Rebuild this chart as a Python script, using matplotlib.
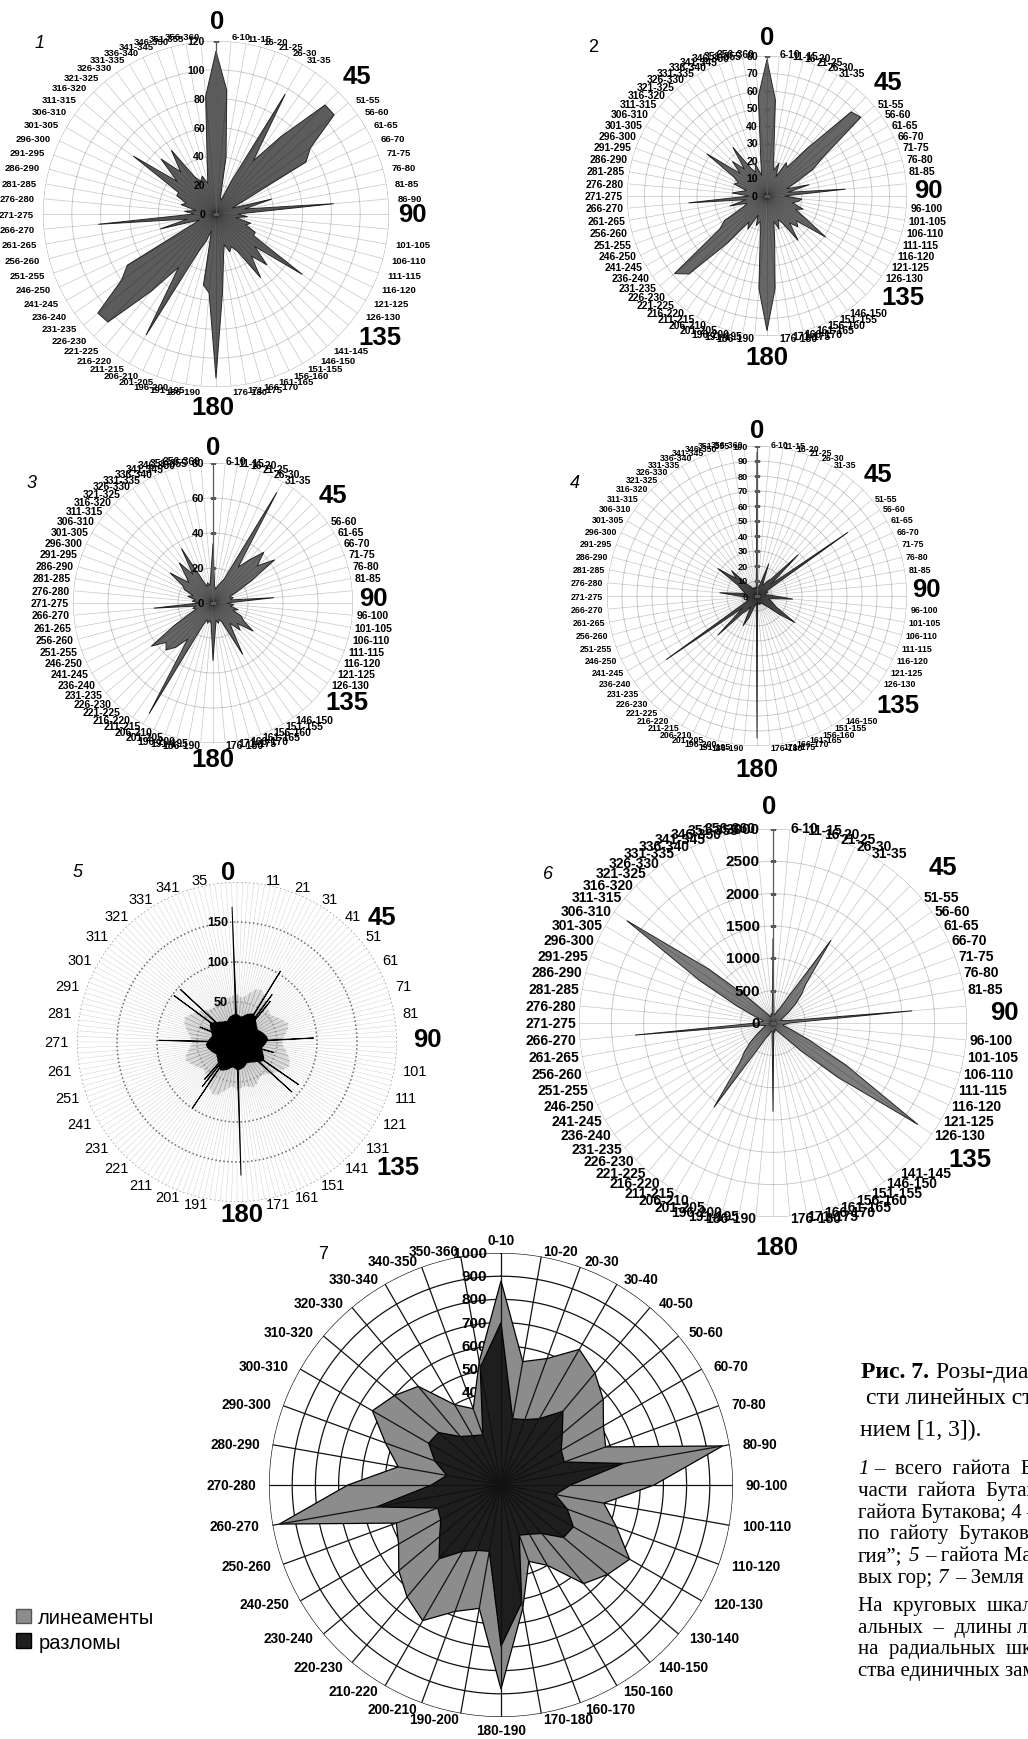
import numpy as np
import matplotlib
matplotlib.use("Agg")
import matplotlib.pyplot as plt
from matplotlib.patches import Patch

plt.rcParams['font.family'] = ['Liberation Sans', 'DejaVu Sans']

# ------------------------------------------------------------------ data
sector_labels_5 = [
    "1-5", "6-10", "11-15", "16-20", "21-25", "26-30", "31-35", "36-40", "41-45", "46-50",
    "51-55", "56-60", "61-65", "66-70", "71-75", "76-80", "81-85", "86-90", "91-95", "96-100",
    "101-105", "106-110", "111-115", "116-120", "121-125", "126-130", "131-135", "136-140",
    "141-145", "146-150", "151-155", "156-160", "161-165", "166-170", "171-175", "176-180",
    "181-185", "186-190", "191-195", "196-200", "201-205", "206-210", "211-215", "216-220",
    "221-225", "226-230", "231-235", "236-240", "241-245", "246-250", "251-255", "256-260",
    "261-265", "266-270", "271-275", "276-280", "281-285", "286-290", "291-295", "296-300",
    "301-305", "306-310", "311-315", "316-320", "321-325", "326-330", "331-335", "336-340",
    "341-345", "346-350", "351-355", "356-360"]

compass_labels = ["0", "45", "90", "135", "180"]

rose1_values = [113, 86, 40, 12, 10, 25, 96, 45, 70, 107, 107, 80, 72, 20, 12, 40, 20, 82,
                15, 22, 14, 25, 22, 30, 30, 73, 35, 50, 38, 54, 30, 25, 28, 22, 30, 53,
                114, 55, 50, 12, 20, 29, 97, 45, 70, 106, 107, 80, 71, 20, 12, 40, 20, 82,
                15, 22, 14, 25, 22, 30, 30, 70, 35, 54, 38, 54, 30, 25, 28, 22, 35, 82]

rose2_values = [78, 55, 22, 15, 20, 12, 22, 20, 35, 68, 70, 40, 30, 18, 12, 25, 12, 45,
                10, 20, 18, 15, 22, 18, 25, 41, 22, 25, 20, 31, 18, 15, 20, 15, 25, 53,
                77, 53, 22, 15, 18, 12, 22, 18, 35, 63, 69, 33, 28, 15, 12, 22, 12, 45,
                10, 20, 15, 12, 20, 18, 22, 42, 20, 28, 20, 34, 18, 15, 20, 12, 20, 57]

rose3_values = [34, 10, 8, 10, 12, 15, 73, 25, 32, 41, 33, 43, 25, 15, 10, 12, 10, 35,
                8, 12, 10, 15, 12, 18, 20, 28, 18, 22, 15, 20, 34, 12, 10, 12, 10, 15,
                33, 12, 10, 12, 10, 15, 73, 25, 33, 38, 35, 43, 25, 15, 10, 12, 10, 34,
                8, 12, 10, 15, 12, 18, 20, 30, 18, 22, 30, 20, 36, 15, 10, 12, 10, 15]

rose4_values = [96, 5, 6, 8, 23, 10, 8, 12, 15, 39, 12, 74, 10, 6, 8, 6, 5, 8,
                12, 24, 10, 8, 10, 12, 15, 31, 18, 10, 8, 6, 5, 6, 5, 6, 5, 4,
                95, 5, 6, 8, 15, 22, 8, 12, 15, 37, 12, 74, 10, 6, 8, 6, 5, 8,
                12, 25, 10, 8, 10, 12, 15, 32, 18, 24, 10, 8, 6, 5, 6, 5, 6, 5]

rose6_values = [1310, 150, 120, 150, 200, 250, 450, 1565, 800, 620, 450, 300, 200, 150, 120, 150, 200, 2160,
                250, 200, 150, 180, 300, 600, 1300, 2735, 1300, 600, 300, 200, 150, 120, 100, 120, 150, 120,
                1370, 150, 120, 150, 200, 250, 450, 1590, 800, 620, 450, 300, 200, 150, 120, 150, 200, 2140,
                250, 200, 150, 180, 300, 600, 1300, 2760, 1300, 600, 300, 200, 150, 120, 100, 120, 150, 120]

# rose 5 : 1-degree rose, drawn as dense core + individual long rays
rose5_labels = ["11", "21", "31", "41", "51", "61", "71", "81", "101", "111", "121", "131", "141",
                "151", "161", "171", "191", "201", "211", "221", "231", "241", "251", "261", "271",
                "281", "291", "301", "311", "321", "331", "341", "35"]
rose5_label_angles = [10, 20, 30, 40, 50, 60, 70, 80, 100, 110, 120, 130, 140, 150, 160, 170,
                      190, 200, 210, 220, 230, 240, 250, 260, 270, 280, 290, 300, 310, 320, 330, 340, 350]
rose5_ray_angles = [357.9, 178.3, 31.5, 36.5, 39.3, 87.0, 106.0, 124.7, 132.3, 214.0, 217.9, 221.0,
                    271.2, 292.0, 306.4, 312.9]
rose5_ray_values = [169, 167, 104, 74, 66, 96, 48, 94, 93, 100, 71, 62, 98, 50, 98, 97]
rose5_core = [34, 32, 31, 33, 36, 38, 40, 38, 35, 33, 31, 30, 29, 31, 33, 35, 37, 38,
              36, 34, 32, 31, 33, 35, 38, 40, 37, 34, 32, 30, 29, 28, 30, 32, 33, 34,
              34, 32, 31, 33, 36, 38, 40, 38, 35, 33, 31, 30, 29, 31, 33, 35, 37, 38,
              36, 34, 32, 31, 33, 35, 38, 40, 37, 34, 32, 30, 29, 28, 30, 32, 33, 34]
rose5_halo = [60, 56, 58, 64, 70, 72, 68, 63, 58, 56, 54, 56, 60, 64, 68, 66, 62, 58,
              56, 58, 62, 66, 70, 72, 68, 64, 60, 56, 53, 52, 54, 58, 60, 58, 56, 58,
              60, 56, 58, 64, 70, 72, 68, 63, 58, 56, 54, 56, 60, 64, 68, 66, 62, 58,
              56, 58, 62, 66, 70, 72, 68, 64, 60, 56, 53, 52, 54, 58, 60, 58, 56, 58]

# rose 7 : 10-degree sectors, two series
sector_labels_10 = ["0-10", "10-20", "20-30", "30-40", "40-50", "50-60", "60-70", "70-80", "80-90",
                    "90-100", "100-110", "110-120", "120-130", "130-140", "140-150", "150-160",
                    "160-170", "170-180", "180-190", "190-200", "200-210", "210-220", "220-230",
                    "230-240", "240-250", "250-260", "260-270", "270-280", "280-290", "290-300",
                    "300-310", "310-320", "320-330", "330-340", "340-350", "350-360"]
rose7_lineaments = [880, 540, 580, 675, 630, 575, 510, 480, 970, 660, 450, 530, 640, 600, 555, 400, 350, 540,
                    880, 540, 580, 675, 630, 575, 510, 480, 970, 660, 450, 530, 640, 600, 555, 400, 350, 540]
rose7_faults = [700, 290, 300, 330, 415, 345, 300, 290, 535, 300, 237, 304, 360, 352, 273, 245, 230, 515,
                695, 290, 300, 330, 415, 345, 300, 290, 545, 300, 237, 304, 360, 352, 273, 245, 230, 515]
legend_labels = ["линеаменты", "разломы"]
panel_numbers = ["1", "2", "3", "4", "5", "6", "7"]

caption_title = [[("Рис. 7.", "normal", "bold"), ("Розы-диаграммы направленно-", "normal", "normal")],
                 [("сти линейных структур (с дополне-", "normal", "normal")],
                 [("нием [1, 3]).", "normal", "normal")]]
caption_body = [[("1", "italic", "normal"), ("–  всего  гайота  Бутакова;  2 – север-", "normal", "normal")],
                [("части  гайота  Бутакова;  3 – южной", "normal", "normal")],
                [("гайота Бутакова; 4 – по разломам", "normal", "normal")],
                [("по  гайоту  Бутакова по данным “Геоло-", "normal", "normal")],
                [("гия”;", "normal", "normal"), ("5", "italic", "normal"), ("– гайота Магеллано-", "normal", "normal")],
                [("вых гор;", "normal", "normal"), ("7", "italic", "normal"), ("– Земля в целом.", "normal", "normal")],
                [("На  круговых  шкалах – азимуты, на ради-", "normal", "normal")],
                [("альных  –  длины лучей (1–4, 6 – в км,", "normal", "normal")],
                [("на  радиальных  шкалах – количе-", "normal", "normal")],
                [("ства единичных замеров).", "normal", "normal")]]

# ------------------------------------------------------------------ layout
W, H = 1028, 1740
PT = 0.72                      # points per pixel at 100 dpi
fig = plt.figure(figsize=(W / 100, H / 100), dpi=100)
FULL = np.linspace(0, 2 * np.pi, 721)


def polar_at(cx, cy, R, rmax):
    ax = fig.add_axes([(cx - R) / W, 1 - (cy + R) / H, 2 * R / W, 2 * R / H], projection='polar')
    ax.set_theta_zero_location('N')
    ax.set_theta_direction(-1)
    ax.set_ylim(0, rmax)
    ax.axis('off')
    return ax


def angle_label(ax, deg, r, text, gap, size, weight='bold', ydamp=0.6, z=5, vgap=None):
    t = np.deg2rad(deg)
    s, c = np.sin(t), np.cos(t)
    if abs(s) < 1e-6:
        ha, va = 'center', ('bottom' if c > 0 else 'top')
        g = gap if vgap is None else vgap
        off = (0, g * np.sign(c) * PT)
    else:
        ha, va = ('left' if s > 0 else 'right'), 'center'
        off = (gap * s * PT, gap * c * ydamp * PT)
    ax.annotate(text, xy=(t, r), xytext=off, textcoords='offset points', ha=ha, va=va,
                fontsize=size, fontweight=weight, annotation_clip=False, zorder=z)


def radial_labels(ax, ticks, gap, size, z=5):
    for v in ticks:
        ax.annotate(f"{v:g}", xy=(0, v), xytext=(-gap * PT, 0), textcoords='offset points',
                    ha='right', va='center', fontsize=size, fontweight='bold',
                    annotation_clip=False, zorder=z)


def big_labels(ax, R, rmax, pos, size=18.5):
    for (a, rp), s in zip(pos, compass_labels):
        ax.text(np.deg2rad(a), rp / R * rmax, s, ha='center', va='center', fontsize=size,
                fontweight='bold', clip_on=False, zorder=6)


def excel_rose(c, values):
    ax = polar_at(c['cx'], c['cy'], c['R'], c['rmax'])
    rmax = c['rmax']
    n = len(values)
    theta = np.deg2rad(np.arange(n) * 360.0 / n)
    rings = np.arange(c['step'], rmax + 1e-9, c['step'])
    for rv in rings:
        ax.plot(FULL, np.full_like(FULL, rv), color='#c6c6c6' if rv < rmax else '#a6a6a6',
                lw=0.6, zorder=1)
    ax.fill(theta, values, facecolor=c['fill'], edgecolor='#262626', lw=0.7, zorder=2)
    ax.vlines(theta, 0, rmax, colors='black', alpha=0.22, lw=0.5, zorder=3)
    ticks = np.arange(0, rmax + 1e-9, c['step'])
    ax.plot([0, 0], [0, rmax], color='#5a5a5a', lw=0.9, zorder=3.5)
    ax.plot(np.zeros_like(ticks), ticks, ls='none', marker='_', ms=4, mew=0.8,
            color='#5a5a5a', zorder=3.5)
    radial_labels(ax, ticks, c['rgap'], c['rsize'])
    for i, lab in enumerate(sector_labels_5):
        if i in c['hidden']:
            continue
        angle_label(ax, i * 5, rmax, lab, c['gap'], c['lsize'], ydamp=c.get('ydamp', 0.6))
    big_labels(ax, c['R'], rmax, c['big'])
    return ax


rose_cfg = {
    1: dict(cx=216, cy=215, R=173, rmax=120, step=20, fill='#5c5c5c', lsize=6.8, gap=9,
            rsize=7.6, rgap=11, hidden={0, 7, 8, 9, 18, 19, 26, 27, 36},
            big=[(0.3, 193), (45.6, 197), (90, 196), (126.9, 205), (180.9, 193)]),
    2: dict(cx=767, cy=197, R=140, rmax=80, step=10, fill='#666666', lsize=7.5, gap=4,
            rsize=7.6, rgap=9, hidden={0, 7, 8, 9, 17, 18, 26, 27, 28, 36},
            big=[(0, 159), (46.7, 166), (87.9, 161), (126.6, 169), (180, 161)]),
    3: dict(cx=213, cy=604, R=140, rmax=80, step=20, fill='#666666', lsize=7.5, gap=4,
            rsize=8.0, rgap=9, hidden={0, 7, 8, 9, 10, 17, 18, 26, 27, 28, 36},
            big=[(0, 156), (48, 161), (88.2, 160), (126.5, 167), (180, 156)]),
    4: dict(cx=757, cy=597, R=150, rmax=100, step=10, fill='#4d4d4d', lsize=6.3, gap=4,
            rsize=6.6, rgap=9, hidden={0, 7, 8, 9, 17, 18, 26, 27, 28, 36},
            big=[(0, 166), (44.8, 172), (87.6, 170), (127.7, 178), (180, 173)]),
    6: dict(cx=773, cy=1024, R=194, rmax=3000, step=500, fill='#7c7c7c', lsize=10, gap=3,
            rsize=11, rgap=13, hidden={0, 7, 8, 9, 17, 18, 26, 27, 36},
            big=[(359, 217), (47.5, 231), (87.3, 232), (124.6, 239), (179, 224)]),
}
rose_values = {1: rose1_values, 2: rose2_values, 3: rose3_values, 4: rose4_values, 6: rose6_values}
for k in (1, 2, 3, 4, 6):
    excel_rose(rose_cfg[k], rose_values[k])

# ---- rose 5
R5, RMAX5 = 160, 200
ax5 = polar_at(237, 1043, R5, RMAX5)
ax5.vlines(np.deg2rad(np.arange(0, 360, 2)), 0, RMAX5, colors='#d2d2d2', lw=0.35, zorder=0.5)
for rv, col in ((50, '#8a8a8a'), (100, '#6a6a6a'), (150, '#6a6a6a'), (200, '#9a9a9a')):
    ax5.plot(FULL, np.full_like(FULL, rv), color=col, lw=1.1, ls=(0, (1, 1.6)), zorder=1)
th5 = np.deg2rad(np.arange(len(rose5_core)) * 5)
ax5.fill(th5, rose5_halo, facecolor='#b0b0b0', alpha=0.35, lw=0, zorder=2)
ax5.vlines(th5, 0, rose5_halo, colors='#555555', lw=0.5, alpha=0.45, zorder=2.2)
ax5.fill(th5, rose5_core, facecolor='black', edgecolor='black', lw=1.2, zorder=3)
for a, v in zip(rose5_ray_angles, rose5_ray_values):
    half = 1.6 if v > 150 else 1.1
    ax5.fill(np.deg2rad([a - half, a, a + half]), [22, v, 22], facecolor='black',
             edgecolor='black', lw=0.7, zorder=4)
radial_labels(ax5, [50, 100, 150], 9, 9)
for a, s in zip(rose5_label_angles, rose5_labels):
    angle_label(ax5, a, RMAX5, s, 8, 10.5, weight='normal')
big_labels(ax5, R5, RMAX5, [(357, 170), (49.2, 191), (89, 190), (127.8, 204), (178.3, 172)])

# ---- rose 7
R7, RMAX7 = 232, 1000
ax7 = polar_at(501, 1486, R7, RMAX7)
th7 = np.deg2rad(np.arange(len(rose7_lineaments)) * 10)
for rv in range(100, RMAX7 + 1, 100):
    ax7.plot(FULL, np.full_like(FULL, rv), color='#111111', lw=0.9, zorder=1)
radial_labels(ax7, list(range(0, RMAX7 + 1, 100)), 14, 11, z=1.5)
ax7.fill(th7, rose7_lineaments, facecolor='#8c8c8c', edgecolor='black', lw=0.9, zorder=2)
ax7.fill(th7, rose7_faults, facecolor='#1e1e1e', edgecolor='black', lw=0.9, zorder=2.5)
ax7.vlines(th7, 0, RMAX7, colors='#111111', lw=0.9, zorder=3)
for i, s in enumerate(sector_labels_10):
    angle_label(ax7, i * 10, RMAX7, s, 13, 9.8, ydamp=0.45, vgap=6)

# ---- panel numbers
panel_pos = [(40, 43, 'italic'), (593, 47, 'normal'), (32, 483, 'italic'), (575, 483, 'italic'),
             (78, 873, 'italic'), (548, 875, 'italic'), (323, 1255, 'normal')]
for s, (x, y, st) in zip(panel_numbers, panel_pos):
    fig.text(x / W, 1 - y / H, s, ha='center', va='center', fontsize=13, style=st)

# ---- legend
fig.legend(handles=[Patch(facecolor='#8c8c8c', edgecolor='#555555'),
                    Patch(facecolor='#1e1e1e', edgecolor='black')],
           labels=legend_labels, loc='upper left', bbox_to_anchor=(8 / W, 1 - 1601 / H),
           frameon=False, fontsize=14.5, handlelength=0.75, handleheight=0.75,
           handletextpad=0.35, labelspacing=0.28, borderaxespad=0)

# ---- caption (serif text on the right, cut by the page edge)
renderer = fig.canvas.get_renderer()
SERIF = ['Liberation Serif', 'DejaVu Serif']


def text_runs(x, y, runs, size, space):
    for txt, st, wt in runs:
        t = fig.text(x / W, 1 - y / H, txt, ha='left', va='baseline', fontsize=size,
                     family=SERIF, style=st, weight=wt)
        x += t.get_window_extent(renderer).width + space


for line, y, x0 in zip(caption_title, [1378, 1404, 1436], [861, 866, 860]):
    text_runs(x0, y, line, 17, 7)
for line, y in zip(caption_body, [1474, 1496, 1518, 1539, 1561, 1583, 1611, 1633, 1654, 1676]):
    text_runs(858, y, line, 15, 6)

fig.savefig("out.png", dpi=100, facecolor='white')
